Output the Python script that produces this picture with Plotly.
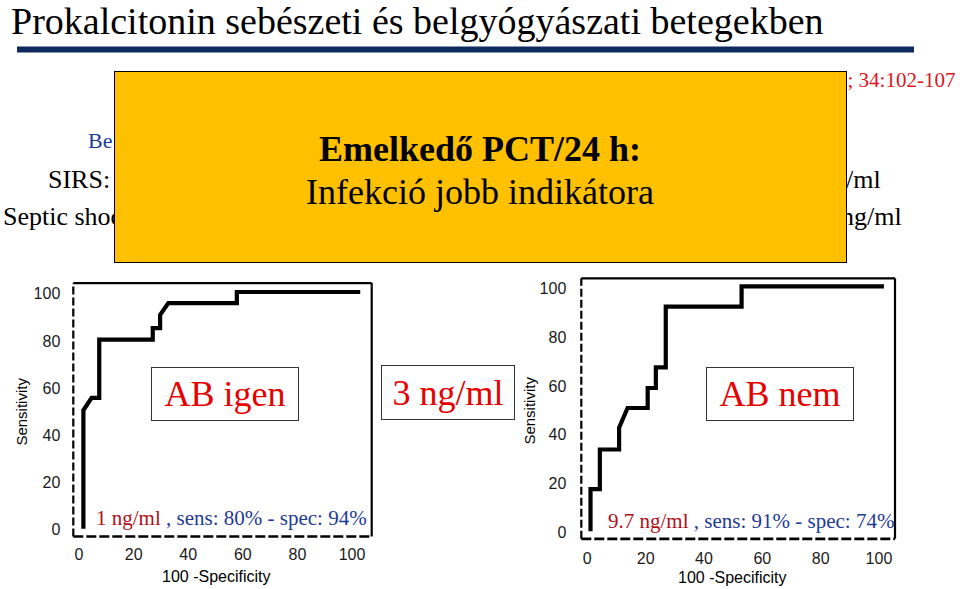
import plotly.graph_objects as go

W, H = 960, 589

# ---- data ----
ticks = [0, 20, 40, 60, 80, 100]

ab_igen_x = [1.6, 1.6, 4.6, 7.4, 7.4, 27.0, 27.0, 29.7, 29.7, 32.7, 57.8, 57.8, 103.0]
ab_igen_y = [0.5, 50.7, 55.9, 55.9, 80.6, 80.6, 85.5, 85.5, 91.1, 96.1, 96.1, 100.8, 100.8]

ab_nem_x = [1.1, 1.1, 4.3, 4.3, 10.9, 10.9, 13.8, 20.7, 20.7, 23.5, 23.5, 26.9, 26.9, 52.9, 52.9, 101.7]
ab_nem_y = [0.5, 17.8, 17.8, 34.0, 34.0, 42.9, 51.0, 51.0, 59.2, 59.2, 67.6, 67.6, 92.5, 92.5, 100.8, 100.8]

title_text = "Prokalcitonin sebészeti és belgyógyászati betegekben"
box_title = "Emelkedő PCT/24 h:"
box_sub = "Infekció jobb indikátora"
left_label = "AB igen"
mid_label = "3 ng/ml"
right_label = "AB nem"
left_cut = "1 ng/ml"
left_stats = " , sens: 80% - spec: 94%"
right_cut = "9.7 ng/ml"
right_stats = " , sens: 91% - spec: 74%"
x_title = "100 -Specificity"
y_title = "Sensitivity"

SERIF = "Liberation Serif, Times New Roman, serif"
SANS = "Liberation Sans, Arial, sans-serif"

def px(x):
    return x / W

def py(y):
    return 1 - y / H

fig = go.Figure()
fig.add_trace(go.Scatter(x=ab_igen_x, y=ab_igen_y, mode="lines",
                         line=dict(color="black", width=4.2), xaxis="x", yaxis="y",
                         showlegend=False, hoverinfo="skip"))
fig.add_trace(go.Scatter(x=ab_nem_x, y=ab_nem_y, mode="lines",
                         line=dict(color="black", width=4.2), xaxis="x2", yaxis="y2",
                         showlegend=False, hoverinfo="skip"))

tickfont = dict(family=SANS, size=16, color="#1a1a1a")
axis_common = dict(tickvals=ticks, showgrid=False, zeroline=False, showline=False,
                   ticks="", tickfont=tickfont, fixedrange=True)

fig.update_layout(
    width=W, height=H, margin=dict(l=0, r=0, t=0, b=0),
    paper_bgcolor="white", plot_bgcolor="white", showlegend=False,
    xaxis=dict(domain=[px(73.3), px(371.7)], range=[-2.1, 107.2], anchor="y",
               ticklabelstandoff=7, **axis_common),
    yaxis=dict(domain=[py(538.3), py(284)], range=[-2.8, 104.6], anchor="x",
               ticklabelstandoff=12, **axis_common),
    xaxis2=dict(domain=[px(581.3), px(895)], range=[-2.06, 105.5], anchor="y2",
                ticklabelstandoff=8, **axis_common),
    yaxis2=dict(domain=[py(540.7), py(279.3)], range=[-2.6, 104.1], anchor="x2",
                ticklabelstandoff=14, **axis_common),
)

shapes = []
# title underline bar
shapes.append(dict(type="rect", xref="paper", yref="paper",
                   x0=px(17), x1=px(914), y0=py(52.7), y1=py(46.7),
                   fillcolor="#0E2A5E", line=dict(width=0)))
# plot frames
for xr, yr in [("x domain", "y domain"), ("x2 domain", "y2 domain")]:
    shapes.append(dict(type="line", xref=xr, yref=yr, x0=0, x1=1, y0=1, y1=1,
                       line=dict(color="black", width=2.2)))
    shapes.append(dict(type="line", xref=xr, yref=yr, x0=1, x1=1, y0=0, y1=1,
                       line=dict(color="black", width=2.2)))
    shapes.append(dict(type="line", xref=xr, yref=yr, x0=0, x1=0, y0=0, y1=1,
                       line=dict(color="black", width=2.2, dash="8px,3px")))
    shapes.append(dict(type="line", xref=xr, yref=yr, x0=0, x1=1, y0=0, y1=0,
                       line=dict(color="black", width=2.6, dash="10px,3px")))
fig.update_layout(shapes=shapes)

ann = []
def text(t, x, y, size, color="black", family=SERIF, xanchor="left", yanchor="middle", **kw):
    ann.append(dict(text=t, x=px(x), y=py(y), xref="paper", yref="paper",
                    xanchor=xanchor, yanchor=yanchor, showarrow=False,
                    font=dict(family=family, size=size, color=color), **kw))

# title
text(title_text, 9, 21, 38)
# partially hidden slide texts (behind the orange box)
text("6; 34:102-107", 957, 80, 21, color="#E0141E", xanchor="right")
text("Be", 86, 141, 22, color="#1F3A9A")
text("SIRS:", 46, 180, 26)
text("Septic shoc", 1, 217, 26)
text("/ml", 883, 180, 26, xanchor="right")
text("ng/ml", 904, 217, 26, xanchor="right")

# orange overlay box
ann.append(dict(text=" ", x=px(480.5), y=py(168),
                xref="paper", yref="paper", xanchor="center", yanchor="middle",
                showarrow=False, width=731, height=190, bgcolor="#FFC000",
                bordercolor="black", borderwidth=1, borderpad=0,
                font=dict(family=SERIF, size=10, color="black")))
text(f"<b>{box_title}</b>", 480, 150, 36, xanchor="center")
text(box_sub, 480, 193, 36, xanchor="center")

# boxed labels
for lab, cx, cy, w, h in [(left_label, 225, 395, 146, 52),
                          (mid_label, 447.5, 393.4, 132, 53),
                          (right_label, 780, 395, 146, 52)]:
    ann.append(dict(text=lab, x=px(cx), y=py(cy), xref="paper", yref="paper",
                    xanchor="center", yanchor="middle", showarrow=False,
                    width=w, height=h, bgcolor="white", bordercolor="#333333",
                    borderwidth=1, borderpad=0,
                    font=dict(family=SERIF, size=36, color="#E60000")))

# cut-off statistics
text(f"<span style='color:#B0101A'>{left_cut}</span><span style='color:#1F3A93'>{left_stats}</span>",
     94, 520, 21)
text(f"<span style='color:#B0101A'>{right_cut}</span><span style='color:#1F3A93'>{right_stats}</span>",
     606, 523, 21)

# axis titles
text(y_title, 22, 413, 15, family=SANS, xanchor="center", textangle=-90)
text(y_title, 530, 412, 15, family=SANS, xanchor="center", textangle=-90)
text(x_title, 216, 578, 16, family=SANS, xanchor="center")
text(x_title, 732, 579, 16, family=SANS, xanchor="center")

fig.update_layout(annotations=ann)
fig.write_html("out.html", config={"displayModeBar": False},
               post_script="document.body.style.margin='0';document.body.style.padding='0';")
